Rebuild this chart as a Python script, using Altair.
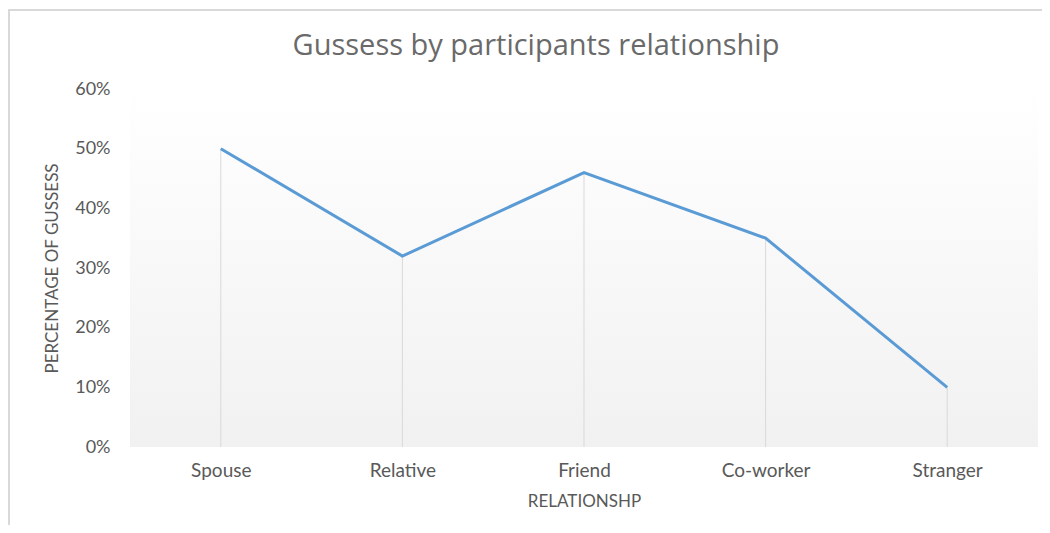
import altair as alt
import pandas as pd

categories = ["Spouse", "Relative", "Friend", "Co-worker", "Stranger"]
values = [0.50, 0.32, 0.46, 0.35, 0.10]
y_ticks = [0, 0.1, 0.2, 0.3, 0.4, 0.5, 0.6]
chart_title = "Gussess by participants relationship"

df = pd.DataFrame({"relationship": categories, "pct": values})

W, H = 908, 358
FONT = "Lato"
GRAY = "#595959"

x_enc = alt.X("relationship:N", sort=categories, title="RELATIONSHP",
              scale=alt.Scale(type="point", padding=0.5),
              axis=alt.Axis(labelAngle=0, labelFontSize=19, labelColor=GRAY, labelFont=FONT,
                            labelPadding=14, ticks=False, domain=False,
                            titleFontSize=17, titleFont=FONT, titleColor=GRAY,
                            titleFontWeight="normal", titlePadding=13))
y_enc = alt.Y("pct:Q", title="PERCENTAGE OF GUSSESS",
              scale=alt.Scale(domain=[0, 0.6], nice=False),
              axis=alt.Axis(values=y_ticks, format=".0%", grid=False, ticks=False, domain=False,
                            labelFontSize=18, labelColor=GRAY, labelFont=FONT, labelPadding=20,
                            titleFontSize=17, titleFont=FONT, titleColor=GRAY,
                            titleFontWeight="normal", titlePadding=13))

base = alt.Chart(df)
one = pd.DataFrame({"t": [chart_title]})

bg = alt.Chart(one).mark_rect(
    color=alt.Gradient(gradient="linear", x1=0, x2=0, y1=0, y2=1,
                       stops=[alt.GradientStop(offset=0, color="#ffffff"),
                              alt.GradientStop(offset=1, color="#f1f1f1")])
).encode(x=alt.value(0), x2=alt.value(W), y=alt.value(0), y2=alt.value(H))

drops = base.mark_rule(color="#d9d9d9", strokeWidth=1).encode(
    x=x_enc, y=y_enc, y2=alt.datum(0)
)
line = base.mark_line(color="#5b9bd5", strokeWidth=3).encode(x=x_enc, y=y_enc)

frame_left = alt.Chart(one).mark_rule(color="#d9d9d9", strokeWidth=2).encode(
    x=alt.value(-121), y=alt.value(-80), y2=alt.value(H + 80)
)
frame_top = alt.Chart(one).mark_rule(color="#d9d9d9", strokeWidth=2).encode(
    x=alt.value(-122), x2=alt.value(W + 10), y=alt.value(-79)
)
title = alt.Chart(one).mark_text(font="Open Sans", fontSize=29, color="#6a6a6a", align="center",
                                 baseline="alphabetic").encode(
    text="t:N", x=alt.value(406), y=alt.value(-34)
)

chart = alt.layer(bg, frame_left, frame_top, drops, line, title).properties(
    width=W, height=H,
    autosize=alt.AutoSizeParams(type="none"),
    padding={"left": 122, "top": 81, "right": 4, "bottom": 78},
).configure_view(stroke=None)

chart.save("out.html", embed_options={"renderer": "svg", "actions": False})
